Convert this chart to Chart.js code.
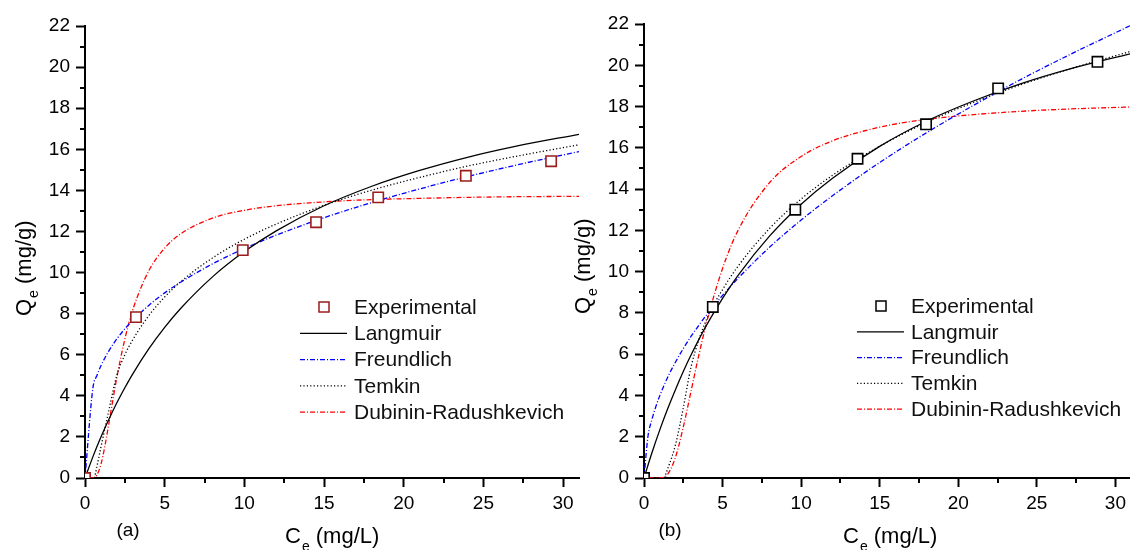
<!DOCTYPE html>
<html>
<head>
<meta charset="utf-8">
<script src="https://cdn.jsdelivr.net/npm/chart.js@4.4.0/dist/chart.umd.min.js"></script>
<style>
  html, body { margin: 0; padding: 0; background: #fff; overflow: hidden; }
  body { width: 1130px; height: 550px; position: relative; }
  .panel { position: absolute; top: 0; }
</style>
</head>
<body>
<div class="panel" style="left:0;width:590px;height:550px"><canvas id="panel-a" width="590" height="550"></canvas></div>
<div class="panel" style="left:560px;width:580px;height:550px"><canvas id="panel-b" width="580" height="550"></canvas></div>
<script>
// Isotermas de adsorção - painéis (a) e (b)
const seriesNames = ['Experimental', 'Langmuir', 'Freundlich', 'Temkin', 'Dubinin-Radushkevich'];
const xMinorTicks = [2.5, 7.5, 12.5, 17.5, 22.5, 27.5];
const yMinorTicks = [1, 3, 5, 7, 9, 11, 13, 15, 17, 19, 21];

// painel (a)
const expA_C = [0, 3.2, 9.9, 14.5, 18.4, 23.9, 29.25];
const expA_Q = [0, 7.83, 11.09, 12.45, 13.66, 14.71, 15.42];
const langA_C = [0, 0.5, 1, 1.5, 2, 2.5, 3, 4, 5, 6, 8, 10, 12, 15, 18, 21, 24, 27, 31];
const langA_Q = [0, 1.04, 1.99, 2.86, 3.66, 4.39, 5.07, 6.28, 7.33, 8.25, 9.79, 11.02, 12.03, 13.25, 14.2, 14.97, 15.61, 16.14, 16.73];
const freuA_C = [0, 0.5, 0.75, 1, 1.5, 2, 2.5, 3, 4, 5, 6, 8, 10, 12, 15, 18, 21, 24, 27, 31];
const freuA_Q = [0, 4.40, 4.99, 5.46, 6.19, 6.77, 7.26, 7.68, 8.40, 9.01, 9.53, 10.42, 11.17, 11.82, 12.67, 13.41, 14.07, 14.67, 15.22, 15.89];
const temA_C = [0.6, 1, 1.5, 2, 2.5, 3, 4, 5, 6, 8, 10, 12, 15, 18, 21, 24, 27, 31];
const temA_Q = [0, 1.5, 3.3, 5.0, 6.0, 6.73, 7.90, 8.81, 9.55, 10.71, 11.62, 12.36, 13.27, 14.01, 14.63, 15.18, 15.65, 16.22];
const drA_C = [0.3, 0.5, 0.75, 1, 1.25, 1.5, 1.75, 2, 2.5, 3, 4, 5, 6, 8, 10, 12, 15, 18, 21, 24, 27, 31];
const drA_Q = [0, 0.01, 0.15, 0.67, 1.56, 2.67, 3.81, 4.90, 6.76, 8.19, 10.08, 11.19, 11.88, 12.65, 13.03, 13.25, 13.44, 13.55, 13.61, 13.66, 13.69, 13.71];

// painel (b)
const expB_C = [0, 4.38, 9.63, 13.59, 17.95, 22.54, 28.86];
const expB_Q = [0, 8.29, 13.0, 15.47, 17.14, 18.88, 20.17];
const langB_C = [0, 0.5, 1, 1.5, 2, 2.5, 3, 4, 5, 6, 8, 10, 12, 15, 18, 21, 24, 27, 31];
const langB_Q = [0, 1.21, 2.32, 3.34, 4.28, 5.16, 5.97, 7.43, 8.70, 9.83, 11.73, 13.27, 14.53, 16.07, 17.30, 18.28, 19.11, 19.80, 20.57];
const freuB_C = [0, 0.25, 0.5, 0.75, 1, 1.5, 2, 2.5, 3, 4, 5, 6, 8, 10, 12, 15, 18, 21, 24, 27, 31];
const freuB_Q = [0, 2.0, 2.82, 3.45, 3.98, 4.87, 5.61, 6.27, 6.87, 7.92, 8.85, 9.69, 11.19, 12.5, 13.68, 15.29, 16.74, 18.07, 19.32, 20.48, 21.94];
const temB_C = [1.3, 2, 2.5, 3, 4, 5, 6, 8, 10, 12, 15, 18, 21, 24, 27, 31];
const temB_Q = [0, 1.6, 3.4, 5.4, 7.72, 9.13, 10.28, 12.10, 13.52, 14.67, 16.08, 17.24, 18.21, 19.06, 19.80, 20.68];
const drB_C = [0.3, 1, 1.5, 2, 2.5, 3, 3.5, 4, 5, 6, 8, 10, 12, 15, 18, 21, 24, 27, 31];
const drB_Q = [0, 0.0, 0.18, 1.00, 2.47, 4.23, 5.99, 7.58, 10.16, 12.02, 14.32, 15.58, 16.34, 17.00, 17.38, 17.61, 17.77, 17.88, 17.98];

const FONT = "'Liberation Sans', Arial, sans-serif";

function pts(xs, ys) {
    return xs.map((x, i) => ({ x: x, y: ys[i] }));
}

function curva(label, xs, ys, color, dash) {
    return {
        label: label,
        data: pts(xs, ys),
        showLine: true,
        borderColor: color,
        borderWidth: 1.3,
        borderDash: dash,
        pointRadius: 0,
        fill: false,
        cubicInterpolationMode: 'monotone'
    };
}

function experimental(xs, ys, color) {
    return {
        label: seriesNames[0],
        data: pts(xs, ys),
        showLine: false,
        pointStyle: 'rect',
        pointRadius: 7.3,
        borderColor: color,
        backgroundColor: '#fff',
        borderWidth: 1.6
    };
}

// eixos, títulos, ticks menores e legenda desenhados à mão
const decorPlugin = {
    id: 'decor',
    afterDraw(chart, args, o) {
        const { ctx, chartArea } = chart;
        const sx = chart.scales.x, sy = chart.scales.y;
        ctx.save();

        ctx.strokeStyle = '#000';
        ctx.lineWidth = 2;
        ctx.beginPath();
        yMinorTicks.forEach(v => {
            const py = Math.round(sy.getPixelForValue(v));
            ctx.moveTo(chartArea.left - 5, py);
            ctx.lineTo(chartArea.left, py);
        });
        xMinorTicks.forEach(v => {
            const px = Math.round(sx.getPixelForValue(v));
            ctx.moveTo(px, chartArea.bottom);
            ctx.lineTo(px, chartArea.bottom + 5);
        });
        ctx.stroke();

        ctx.fillStyle = '#000';
        ctx.textBaseline = 'alphabetic';
        ctx.textAlign = 'left';

        // titulo eixo x: C_e (mg/L)
        ctx.font = `22px ${FONT}`;
        ctx.fillText('C', o.xTitleX, o.xTitleY);
        let w = ctx.measureText('C').width;
        ctx.font = `14px ${FONT}`;
        ctx.fillText('e', o.xTitleX + w + 1, o.xTitleY + 8);
        let we = ctx.measureText('e').width;
        ctx.font = `22px ${FONT}`;
        ctx.fillText(' (mg/L)', o.xTitleX + w + we + 1, o.xTitleY);

        // titulo eixo y: Q_e (mg/g)
        ctx.save();
        ctx.translate(o.yTitleX, o.yTitleY);
        ctx.rotate(-Math.PI / 2);
        ctx.textBaseline = 'middle';
        ctx.font = `22px ${FONT}`;
        ctx.fillText('Q', 0, 0);
        w = ctx.measureText('Q').width;
        ctx.font = `14px ${FONT}`;
        ctx.fillText('e', w + 1, 9);
        we = ctx.measureText('e').width;
        ctx.font = `22px ${FONT}`;
        ctx.fillText(' (mg/g)', w + we + 1, 0);
        ctx.restore();

        // rotulo do painel
        ctx.font = `19px ${FONT}`;
        ctx.textAlign = 'center';
        ctx.textBaseline = 'middle';
        ctx.fillText(o.panelLabel, o.panelX, o.panelY);

        // legenda
        ctx.textAlign = 'left';
        ctx.font = `21px ${FONT}`;
        chart.data.datasets.forEach((ds, i) => {
            const yy = o.legendY + i * o.legendStep;
            if (ds.showLine) {
                ctx.save();
                ctx.strokeStyle = ds.borderColor;
                ctx.lineWidth = ds.borderWidth;
                ctx.setLineDash(ds.borderDash || []);
                ctx.beginPath();
                ctx.moveTo(o.legendX, yy);
                ctx.lineTo(o.legendX + 47, yy);
                ctx.stroke();
                ctx.restore();
            } else {
                ctx.save();
                ctx.strokeStyle = ds.borderColor;
                ctx.lineWidth = 1.5;
                ctx.fillStyle = '#fff';
                ctx.fillRect(o.legendX + 19, yy - 5, 10, 10);
                ctx.strokeRect(o.legendX + 19, yy - 5, 10, 10);
                ctx.restore();
            }
            ctx.fillStyle = '#111';
            ctx.fillText(ds.label, o.legendX + 54, yy + 1);
        });

        ctx.restore();
    }
};

function opcoes(pad, yWidth, decor) {
    const tickFont = { family: FONT, size: 19 };
    return {
        responsive: false,
        animation: false,
        events: [],
        layout: { padding: pad },
        plugins: {
            legend: { display: false },
            tooltip: { enabled: false },
            decor: decor
        },
        scales: {
            x: {
                type: 'linear',
                min: 0,
                max: 31,
                ticks: { stepSize: 5, includeBounds: false, color: '#000', font: tickFont, padding: 5, maxRotation: 0 },
                grid: { drawOnChartArea: false, drawTicks: true, tickLength: 9, tickWidth: 2, tickColor: '#000' },
                border: { display: true, color: '#000', width: 2 },
                afterFit: s => { s.height = 72; }
            },
            y: {
                type: 'linear',
                min: 0,
                max: 22,
                ticks: { stepSize: 2, color: '#000', font: tickFont, padding: 6 },
                grid: { drawOnChartArea: false, drawTicks: true, tickLength: 9, tickWidth: 2, tickColor: '#000' },
                border: { display: true, color: '#000', width: 2 },
                afterFit: s => { s.width = yWidth; }
            }
        }
    };
}

new Chart(document.getElementById('panel-a'), {
    type: 'scatter',
    data: {
        datasets: [
            experimental(expA_C, expA_Q, '#9b1c1c'),
            curva(seriesNames[1], langA_C, langA_Q, '#000', []),
            curva(seriesNames[2], freuA_C, freuA_Q, '#0000ff', [5, 2, 1, 2]),
            curva(seriesNames[3], temA_C, temA_Q, '#000', [1.2, 2.2]),
            curva(seriesNames[4], drA_C, drA_Q, '#ff0000', [5, 2, 1, 2])
        ]
    },
    options: opcoes({ top: 26, right: 11, left: 0, bottom: 0 }, 85, {
        xTitleX: 285, xTitleY: 543, yTitleX: 25, yTitleY: 316,
        panelLabel: '(a)', panelX: 128, panelY: 531,
        legendX: 300, legendY: 307, legendStep: 26.3
    }),
    plugins: [decorPlugin]
});

new Chart(document.getElementById('panel-b'), {
    type: 'scatter',
    data: {
        datasets: [
            experimental(expB_C, expB_Q, '#000'),
            curva(seriesNames[1], langB_C, langB_Q, '#000', []),
            curva(seriesNames[2], freuB_C, freuB_Q, '#0000ff', [5, 2, 1, 2]),
            curva(seriesNames[3], temB_C, temB_Q, '#000', [1.2, 2.2]),
            curva(seriesNames[4], drB_C, drB_Q, '#ff0000', [5, 2, 1, 2])
        ]
    },
    options: opcoes({ top: 24, right: 6, left: 0, bottom: 0 }, 84, {
        xTitleX: 283, xTitleY: 543, yTitleX: 24, yTitleY: 314,
        panelLabel: '(b)', panelX: 110, panelY: 531,
        legendX: 297, legendY: 306, legendStep: 25.8
    }),
    plugins: [decorPlugin]
});
</script>
</body>
</html>
